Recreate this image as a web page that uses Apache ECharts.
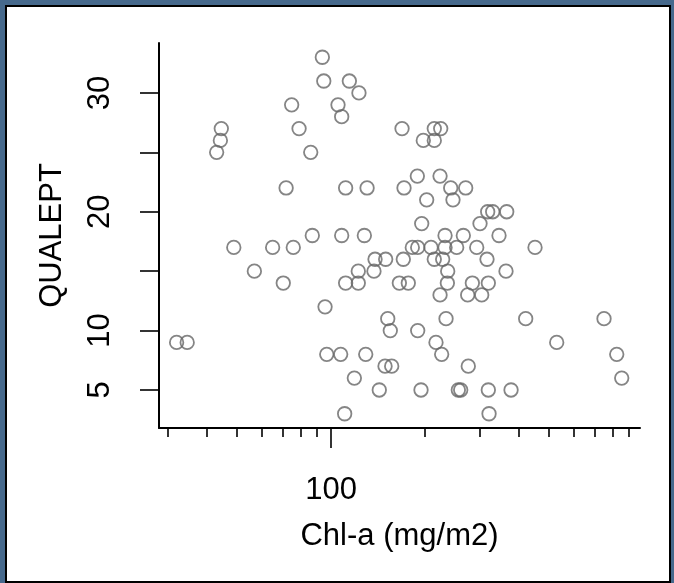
<!DOCTYPE html>
<html>
<head>
<meta charset="utf-8">
<script src="https://cdn.jsdelivr.net/npm/echarts@6/dist/echarts.min.js"></script>
<style>
  html, body { margin: 0; padding: 0; }
  body { width: 674px; height: 583px; background: #46698c; position: relative; overflow: hidden; }
  #frame { position: absolute; left: 5px; top: 5px; width: 662px; height: 574px; background: #fff; border: 2px solid #000; }
  #chart { position: absolute; left: 0; top: 0; width: 674px; height: 583px; }
</style>
</head>
<body>
<div id="frame"></div>
<div id="chart"></div>
<script>
// Chl-a (mg/m2), log scale
const chlA = [
  93.8, 94.8, 114.5, 122.9, 74.8, 105.3, 108.2, 44.5, 79.0, 168.9, 214.3, 224.7,
  44.2, 197.6, 214.3, 43.0, 86.1, 189.1, 223.6, 71.8, 111.4, 130.5, 171.4, 241.9,
  270.2, 202.6, 246.0, 317.8, 329.8, 365.7, 195.3, 300.3, 87.1, 108.2, 127.9, 232.0,
  265.5, 345.5, 48.8, 65.0, 75.7, 182.2, 189.6, 209.2, 232.0, 252.8, 293.1, 450.7,
  138.4, 149.7, 170.5, 214.3, 228.0, 316.2, 56.8, 122.3, 137.3, 236.6, 363.8, 70.3,
  111.4, 122.3, 165.6, 176.9, 236.0, 283.8, 319.3, 223.6, 274.2, 304.1, 95.7, 152.0,
  233.7, 420.7, 749.9, 154.9, 189.6, 32.0, 34.6, 217.0, 528.9, 96.9, 107.4, 129.2,
  226.3, 823.7, 149.0, 156.5, 275.4, 118.8, 854.6, 142.8, 194.3, 255.9, 260.4, 319.3,
  377.6, 110.6, 321.0
];
// QUALEPT
const qualept = [
  33, 31, 31, 30, 29, 29, 28, 27, 27, 27, 27, 27,
  26, 26, 26, 25, 25, 23, 23, 22, 22, 22, 22, 22,
  22, 21, 21, 20, 20, 20, 19, 19, 18, 18, 18, 18,
  18, 18, 17, 17, 17, 17, 17, 17, 17, 17, 17, 17,
  16, 16, 16, 16, 16, 16, 15, 15, 15, 15, 15, 14,
  14, 14, 14, 14, 14, 14, 14, 13, 13, 13, 12, 11,
  11, 11, 11, 10, 10, 9, 9, 9, 9, 8, 8, 8,
  8, 8, 7, 7, 7, 6, 6, 5, 5, 5, 5, 5,
  5, 3, 3
];
const xMinorTicks = [30, 40, 50, 60, 70, 80, 90, 200, 300, 400, 500, 600, 700, 800, 900];
const xMajorTicks = [100];
const xLabels = [100];
const yTicks = [5, 10, 15, 20, 25, 30];
const yLabels = [5, 10, 20, 30];

const FONT = '"Liberation Sans", Arial, Helvetica, sans-serif';
const points = chlA.map((x, i) => [x, qualept[i]]);

const chart = echarts.init(document.getElementById('chart'), null, { renderer: 'canvas' });
const xBase = {
  type: 'log', logBase: 10, min: 28.1, max: 978, position: 'bottom', offset: 0,
  splitLine: { show: false }, minorTick: { show: false }, minorSplitLine: { show: false }
};
chart.setOption({
  animation: false,
  backgroundColor: 'transparent',
  grid: { left: 159, right: 34, top: 43, bottom: 155, containLabel: false },
  xAxis: [
    Object.assign({}, xBase, {
      name: 'Chl-a (mg/m2)', nameLocation: 'middle', nameGap: 93,
      nameTextStyle: { fontFamily: FONT, fontSize: 31, color: '#000' },
      axisLine: { show: true, lineStyle: { color: '#000', width: 2 } },
      axisTick: { show: true, inside: false, length: 9, lineStyle: { color: '#000', width: 1.6 }, customValues: xMinorTicks },
      axisLabel: { show: false }
    }),
    Object.assign({}, xBase, {
      axisLine: { show: false },
      axisTick: { show: true, inside: false, length: 20, lineStyle: { color: '#000', width: 1.6 }, customValues: xMajorTicks },
      axisLabel: { show: true, customValues: xLabels, margin: 47, fontFamily: FONT, fontSize: 31, color: '#000' }
    })
  ],
  yAxis: {
    type: 'value', min: 1.8, max: 34.2,
    name: 'QUALEPT', nameLocation: 'middle', nameGap: 91,
    nameTextStyle: { fontFamily: FONT, fontSize: 31, color: '#000' },
    splitLine: { show: false },
    axisLine: { show: true, lineStyle: { color: '#000', width: 2 } },
    axisTick: { show: true, inside: false, length: 19, lineStyle: { color: '#000', width: 1.6 }, customValues: yTicks },
    axisLabel: { show: true, customValues: yLabels, rotate: 90, margin: 43, fontFamily: FONT, fontSize: 31, color: '#000' }
  },
  series: [{
    type: 'scatter',
    xAxisIndex: 0,
    data: points,
    symbol: 'circle',
    symbolSize: 13.5,
    itemStyle: { color: 'rgba(0,0,0,0)', borderColor: '#666666', borderWidth: 1.8 },
    emphasis: { disabled: true }
  }]
});
</script>
</body>
</html>
